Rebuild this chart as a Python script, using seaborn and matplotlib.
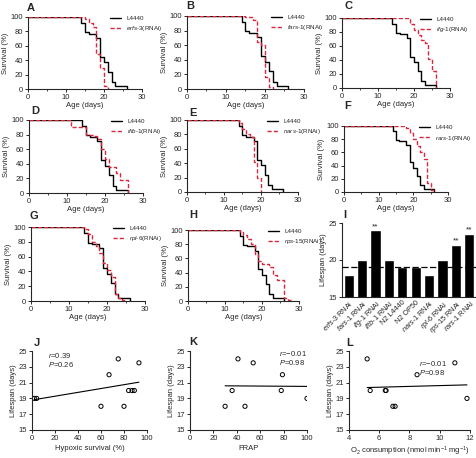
import numpy as np
import pandas as pd
import seaborn as sns
import matplotlib.pyplot as plt
from matplotlib.ticker import MultipleLocator

sns.set_style('ticks')
plt.rcParams['font.family'] = ['Liberation Sans', 'DejaVu Sans']
plt.rcParams['mathtext.fontset'] = 'custom'
plt.rcParams['mathtext.rm'] = 'Liberation Sans'
plt.rcParams['mathtext.it'] = 'Liberation Sans:italic'
plt.rcParams['mathtext.bf'] = 'Liberation Sans:bold'
plt.rcParams['axes.linewidth'] = 0.8

RED = '#d8283e'

# survival curves (day of step, % alive after step)
ctrl_days = [0, 14, 15, 16, 18, 19, 20, 21, 22, 23, 26]
ctrl_surv = [100, 92, 79, 77, 71, 45, 37, 24, 10, 4, 0]

erfs3_days = [0, 15, 16, 17, 18, 19, 20, 21]
erfs3_surv = [100, 97, 92, 86, 48, 29, 4, 0]
fars1_days = [0, 15, 17, 18, 19, 20, 21, 22]
fars1_surv = [100, 98, 94, 65, 60, 16, 3, 0]
ifg1_days = [0, 19, 20, 21, 22, 23, 24, 25, 26]
ifg1_surv = [100, 92, 83, 76, 68, 64, 41, 25, 0]
iftb1_days = [0, 11, 15, 17, 18, 19, 20, 21, 23, 24, 26]
iftb1_surv = [100, 90, 80, 78, 74, 60, 46, 36, 27, 18, 0]
nars1_days = [0, 14, 15, 16, 17, 18, 19, 20]
nars1_surv = [100, 96, 88, 80, 77, 41, 20, 0]
rars1_days = [0, 18, 19, 20, 21, 22, 23, 24, 25, 26]
rars1_surv = [100, 97, 90, 80, 70, 60, 50, 14, 3, 0]
rpl6_days = [0, 14, 15, 16, 17, 18, 19, 20, 21, 22, 23, 24, 25]
rpl6_surv = [100, 97, 91, 80, 75, 65, 52, 42, 33, 10, 4, 2, 0]
rps15_days = [0, 14, 15, 16, 17, 18, 19, 20, 22, 23, 24, 26, 27, 28]
rps15_surv = [100, 97, 93, 87, 80, 66, 57, 52, 48, 37, 30, 4, 2, 0]

# mean lifespan bars
bar_labels = [r'$\mathit{erfs}$-$\mathit{3}$ RNAi', r'$\mathit{fars}$-$\mathit{1}$ RNAi',
              r'$\mathit{ifg}$-$\mathit{1}$ RNAi', r'$\mathit{iftb}$-$\mathit{1}$ RNAi',
              'N2 L4440', 'N2 OP50', r'$\mathit{nars}$-$\mathit{1}$ RNAi',
              r'$\mathit{rpl}$-$\mathit{6}$ RNAi', r'$\mathit{rps}$-$\mathit{15}$ RNAi',
              r'$\mathit{rars}$-$\mathit{1}$ RNAi']
bar_life = [18, 20, 24, 20, 19, 19, 18, 20, 22, 23.5]
bar_sig = ['', '', '**', '', '', '', '', '', '**', '**']

# correlations
hyp_x = [2, 4, 60, 67, 75, 80, 84, 87, 89, 93]
hyp_life = [19, 19, 18, 22, 24, 18, 20, 20, 20, 23.5]
frap_x = [30, 36, 41, 47, 54, 78, 79, 100]
frap_life = [18, 20, 24, 18, 23.5, 20, 22, 19]
o2_x = [5.2, 5.4, 6.4, 6.45, 6.9, 7.05, 8.5, 11.0, 11.8]
o2_life = [24, 20, 20, 20, 18, 18, 22, 23.5, 19]

W, H = 477, 458
FS = 5.5

def box(x0, y0, x1, y1):
    return [x0 / W, 1 - y1 / H, (x1 - x0) / W, (y1 - y0) / H]

fig = plt.figure(figsize=(W / 100, H / 100), dpi=100)

def style(ax):
    sns.despine(ax=ax)
    ax.tick_params(labelsize=FS, length=2, width=0.7, pad=1.5)
    ax.tick_params(which='minor', length=1.2, width=0.6)

def survival(rect, days, surv, gene, letter, lx, ly):
    ax = fig.add_axes(box(*rect))
    sns.lineplot(x=ctrl_days, y=ctrl_surv, ax=ax, color='k', lw=1.0,
                 drawstyle='steps-post', label='L4440')
    sns.lineplot(x=days, y=surv, ax=ax, color=RED, lw=1.0, linestyle=(0, (3, 1.5)),
                 drawstyle='steps-post', label=gene)
    ax.set_xlim(0, 30)
    ax.set_ylim(0, 100)
    ax.set_xticks([0, 10, 20, 30])
    ax.set_yticks([0, 20, 40, 60, 80, 100])
    ax.xaxis.set_minor_locator(MultipleLocator(5))
    ax.set_xlabel('Age (days)', fontsize=FS, labelpad=1)
    ax.set_ylabel('Survival (%)', fontsize=FS, labelpad=1)
    style(ax)
    ax.legend(loc='upper left', bbox_to_anchor=(0.68, 1.08), frameon=False,
              fontsize=4.5, handlelength=1.8, labelspacing=0.5, borderpad=0.2)
    fig.text(lx / W, 1 - ly / H, letter, fontsize=8, fontweight='bold', va='center')
    return ax

survival((28, 17, 142, 89), erfs3_days, erfs3_surv, r'$\mathit{erfs}$-$\mathit{3}$(RNAi)', 'A', 27, 8)
survival((187, 16, 304, 89), fars1_days, fars1_surv, r'$\mathit{fars}$-$\mathit{1}$(RNAi)', 'B', 186, 6)
survival((342, 18, 450, 88), ifg1_days, ifg1_surv, r'$\mathit{ifg}$-$\mathit{1}$(RNAi)', 'C', 345, 6)
survival((29, 120, 143, 193), iftb1_days, iftb1_surv, r'$\mathit{iftb}$-$\mathit{1}$(RNAi)', 'D', 31, 111)
survival((187, 120, 298, 192), nars1_days, nars1_surv, r'$\mathit{nars}$-$\mathit{1}$(RNAi)', 'E', 189, 113)
survival((344, 126, 448, 192), rars1_days, rars1_surv, r'$\mathit{rars}$-$\mathit{1}$(RNAi)', 'F', 344, 106)
survival((31, 227, 145, 301), rpl6_days, rpl6_surv, r'$\mathit{rpl}$-$\mathit{6}$(RNAi)', 'G', 30, 216)
survival((188, 230, 299, 301), rps15_days, rps15_surv, r'$\mathit{rps}$-$\mathit{15}$(RNAi)', 'H', 189, 215)

# panel I
ax = fig.add_axes(box(342, 223, 476, 297))
sns.barplot(x=bar_labels, y=bar_life, color='k', width=0.75, ax=ax, saturation=1)
ax.axhline(19, color='k', lw=0.9, ls=(0, (5, 2)), zorder=5)
for i, (v, s) in enumerate(zip(bar_life, bar_sig)):
    if s:
        ax.text(i, v + 0.05, s, ha='center', va='bottom', fontsize=6)
ax.set_ylim(15, 25)
ax.set_yticks([15, 20, 25])
ax.set_ylabel('Lifespan (days)', fontsize=FS, labelpad=1)
style(ax)
ax.tick_params(axis='x', length=0)
for t in ax.get_xticklabels():
    t.set_rotation(45)
    t.set_ha('right')
    t.set_rotation_mode('anchor')
    t.set_fontsize(5.2)
fig.text(343 / W, 1 - 215 / H, 'I', fontsize=8, fontweight='bold', va='center')

def corr(rect, xs, ys, xlim, xticks, xlabel, rtxt, ptxt, tx, ty, letter, lx, ly):
    ax = fig.add_axes(box(*rect))
    ax.set_xlim(*xlim)
    sns.regplot(x=xs, y=ys, ax=ax, ci=None, truncate=True, color='k',
                scatter_kws=dict(s=9, facecolors='none', edgecolors='k', linewidths=0.7, alpha=1),
                line_kws=dict(lw=0.8))
    ax.set_xlim(*xlim)
    ax.set_ylim(15, 25)
    ax.set_xticks(xticks)
    ax.set_yticks([15, 17, 19, 21, 23, 25])
    ax.set_xlabel(xlabel, fontsize=FS, labelpad=2)
    ax.set_ylabel('Lifespan (days)', fontsize=FS, labelpad=1)
    style(ax)
    ax.text(tx, ty, rtxt + '\n' + ptxt, fontsize=5.5, va='top', linespacing=0.95)
    fig.text(lx / W, 1 - ly / H, letter, fontsize=8, fontweight='bold', va='center')

corr((32, 351, 147, 430), hyp_x, hyp_life, (0, 100), [0, 20, 40, 60, 80, 100],
     'Hypoxic survival (%)', r'$\mathit{r}$=0.39', r'$\mathit{P}$=0.26', 14, 25.0, 'J', 34, 343)
corr((190, 351, 307, 430), frap_x, frap_life, (0, 100), [0, 20, 40, 60, 80, 100],
     'FRAP', r'$\mathit{r}$=−0.01', r'$\mathit{P}$=0.98', 76, 25.2, 'K', 189, 342)
corr((349, 351, 470, 430), o2_x, o2_life, (4, 12), [4, 6, 8, 10, 12],
     r'O$_2$ consumption (nmol min$^{-1}$ mg$^{-1}$)', r'$\mathit{r}$=−0.01', r'$\mathit{P}$=0.98',
     8.6, 24.0, 'L', 346, 343)

fig.savefig('out.png', dpi=100)
